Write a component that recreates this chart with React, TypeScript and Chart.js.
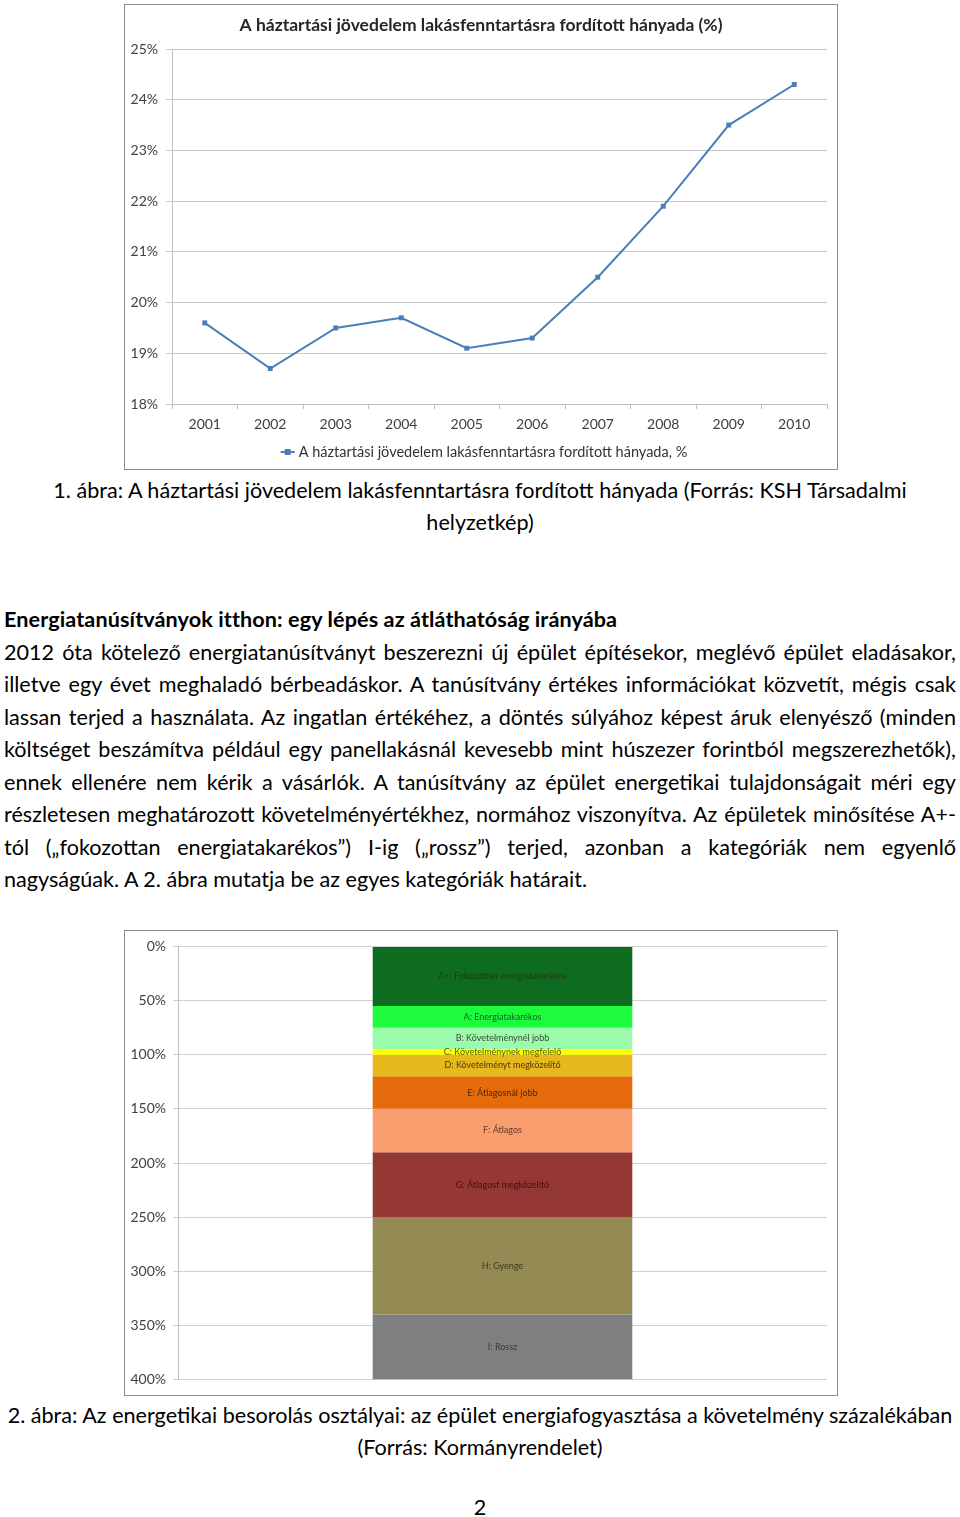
import React, { useEffect, useRef } from "react";
import { Chart, registerables } from "chart.js";

Chart.register(...registerables);

// ---------- Data: chart 1 ----------
const years = ["2001", "2002", "2003", "2004", "2005", "2006", "2007", "2008", "2009", "2010"];
const housingShare = [19.6, 18.7, 19.5, 19.7, 19.1, 19.3, 20.5, 21.9, 23.5, 24.3];
const chart1Title = "A háztartási jövedelem lakásfenntartásra fordított hányada (%)";
const chart1Legend = "A háztartási jövedelem lakásfenntartásra fordított hányada, %";

// ---------- Data: chart 2 ----------
const classLabels = [
  "A+: Fokozottan energiatakarékos",
  "A: Energiatakarékos",
  "B: Követelménynél jobb",
  "C: Követelménynek megfelelő",
  "D: Követelményt megközelítő",
  "E: Átlagosnál jobb",
  "F: Átlagos",
  "G: Átlagost megközelítő",
  "H: Gyenge",
  "I: Rossz",
];
const classSizes = [55, 20, 20, 5, 20, 30, 40, 60, 90, 60];
const classColors = [
  "#0d6c1f", "#1cfc3d", "#9bfdab", "#ffff00", "#e7b91e",
  "#e56b0d", "#fa9d6f", "#953735", "#948a54", "#7f7f7f",
];
const classTextColors = [
  "#1f3a14", "#1f5a25", "#3a4a3a", "#5a5a10", "#4a3a10",
  "#4a2a10", "#5a3a2a", "#3a1414", "#3e3a24", "#3a3a3a",
];

// ---------- Text ----------
const caption1 = [
  "1. ábra: A háztartási jövedelem lakásfenntartásra fordított hányada (Forrás: KSH Társadalmi",
  "helyzetkép)",
];
const heading = "Energiatanúsítványok itthon: egy lépés az átláthatóság irányába";
const paragraphLines = [
  "2012 óta kötelező energiatanúsítványt beszerezni új épület építésekor, meglévő épület eladásakor,",
  "illetve egy évet meghaladó bérbeadáskor. A tanúsítvány értékes információkat közvetít, mégis csak",
  "lassan terjed a használata. Az ingatlan értékéhez, a döntés súlyához képest áruk elenyésző (minden",
  "költséget beszámítva például egy panellakásnál kevesebb mint húszezer forintból megszerezhetők),",
  "ennek ellenére nem kérik a vásárlók. A tanúsítvány az épület energetikai tulajdonságait méri egy",
  "részletesen meghatározott követelményértékhez, normához viszonyítva. Az épületek minősítése A+-",
  "tól („fokozottan energiatakarékos”) I-ig („rossz”) terjed, azonban a kategóriák nem egyenlő",
  "nagyságúak. A 2. ábra mutatja be az egyes kategóriák határait.",
];
const caption2 = [
  "2. ábra: Az energetikai besorolás osztályai: az épület energiafogyasztása a követelmény százalékában",
  "(Forrás: Kormányrendelet)",
];

const FONT = "Lato, 'Noto Sans', sans-serif";
const LINE_BLUE = "#4a7ebb";

function LineChart() {
  const ref = useRef<HTMLCanvasElement | null>(null);
  useEffect(() => {
    if (!ref.current) return;
    const decorations = {
      id: "decor1",
      afterDraw(chart: any) {
        const ctx = chart.ctx;
        ctx.save();
        ctx.fillStyle = "#262626";
        ctx.font = `bold 17.5px ${FONT}`;
        ctx.textAlign = "center";
        ctx.textBaseline = "middle";
        ctx.fillText(chart1Title, chart.width / 2, 20);
        // legend
        ctx.font = `14.5px ${FONT}`;
        const tw = ctx.measureText(chart1Legend).width;
        const total = 18 + tw;
        const x0 = chart.width / 2 - total / 2 + 3;
        const ly = 447;
        ctx.strokeStyle = LINE_BLUE;
        ctx.lineWidth = 2;
        ctx.beginPath();
        ctx.moveTo(x0, ly);
        ctx.lineTo(x0 + 14, ly);
        ctx.stroke();
        ctx.fillStyle = LINE_BLUE;
        ctx.fillRect(x0 + 4, ly - 3, 6, 6);
        ctx.fillStyle = "#333";
        ctx.textAlign = "left";
        ctx.fillText(chart1Legend, x0 + 18, ly);
        ctx.restore();
      },
    };
    const chart = new Chart(ref.current, {
      type: "line",
      data: {
        labels: years,
        datasets: [
          {
            label: chart1Legend,
            data: housingShare,
            borderColor: LINE_BLUE,
            backgroundColor: LINE_BLUE,
            borderWidth: 2,
            pointStyle: "rect",
            pointRadius: 3.5,
            pointBorderWidth: 0,
            tension: 0,
          },
        ],
      },
      options: {
        animation: false,
        responsive: false,
        maintainAspectRatio: false,
        layout: { padding: { left: 0, right: 10, top: 44, bottom: 35 } },
        plugins: { legend: { display: false }, title: { display: false }, tooltip: { enabled: false } },
        scales: {
          x: {
            offset: true,
            grid: { offset: true, drawOnChartArea: false, drawTicks: true, tickLength: 5, color: "#bfbfbf" },
            border: { color: "#bfbfbf" },
            ticks: { color: "#404040", font: { family: FONT, size: 14 }, padding: 7 },
            afterFit: (s: any) => { s.height = 30; },
          },
          y: {
            min: 18,
            max: 25,
            ticks: {
              stepSize: 1,
              color: "#404040",
              font: { family: FONT, size: 14 },
              padding: 8,
              callback: (v: any) => `${v}%`,
            },
            grid: { color: "#c8c8c8", tickLength: 6 },
            border: { color: "#bfbfbf" },
            afterFit: (s: any) => { s.width = 47; },
          },
        },
      },
      plugins: [decorations],
    });
    return () => chart.destroy();
  }, []);
  return <canvas ref={ref} width={712} height={464} style={{ display: "block" }} />;
}

function BarChart() {
  const ref = useRef<HTMLCanvasElement | null>(null);
  useEffect(() => {
    if (!ref.current) return;
    const labelsPlugin = {
      id: "segLabels",
      afterDatasetsDraw(chart: any) {
        const ctx = chart.ctx;
        ctx.save();
        ctx.font = `9px ${FONT}`;
        ctx.textAlign = "center";
        ctx.textBaseline = "middle";
        chart.data.datasets.forEach((ds: any, i: number) => {
          const el = chart.getDatasetMeta(i).data[0];
          if (!el) return;
          const p = el.getProps(["x", "y", "base"], true);
          ctx.fillStyle = classTextColors[i];
          ctx.fillText(ds.label, p.x, (p.y + p.base) / 2);
        });
        ctx.restore();
      },
    };
    const chart = new Chart(ref.current, {
      type: "bar",
      data: {
        labels: [""],
        datasets: classLabels.map((label, i) => ({
          label,
          data: [classSizes[i]],
          backgroundColor: classColors[i],
          borderWidth: 0,
          barPercentage: 1,
          categoryPercentage: 0.4,
        })),
      },
      options: {
        animation: false,
        responsive: false,
        maintainAspectRatio: false,
        layout: { padding: { left: 0, right: 10, top: 14, bottom: 14 } },
        plugins: { legend: { display: false }, title: { display: false }, tooltip: { enabled: false } },
        scales: {
          x: { stacked: true, display: false },
          y: {
            stacked: true,
            reverse: true,
            min: 0,
            max: 400,
            ticks: {
              stepSize: 50,
              color: "#404040",
              font: { family: FONT, size: 14 },
              padding: 7,
              callback: (v: any) => `${v}%`,
            },
            grid: { color: "#d0d0d0", tickLength: 5 },
            border: { color: "#bfbfbf" },
            afterFit: (s: any) => { s.width = 53; },
          },
        },
      },
      plugins: [labelsPlugin],
    });
    return () => chart.destroy();
  }, []);
  return <canvas ref={ref} width={712} height={464} style={{ display: "block" }} />;
}

const textStyle: React.CSSProperties = {
  fontFamily: FONT,
  fontSize: 21.6,
  color: "#000",
  whiteSpace: "nowrap",
};

export default function App() {
  return (
    <div style={{ position: "absolute", left: 0, top: 0, width: 960, height: 1517, background: "#fff" }}>
      <div style={{ position: "absolute", left: 124, top: 4, width: 714, height: 466, border: "1px solid #8c8c8c", boxSizing: "border-box" }}>
        <LineChart />
      </div>
      <div style={{ ...textStyle, position: "absolute", left: 0, top: 474, width: 960, textAlign: "center", lineHeight: "32px" }}>
        {caption1.map((l, i) => <div key={i}>{l}</div>)}
      </div>
      <div style={{ ...textStyle, position: "absolute", left: 4, top: 603, width: 952, lineHeight: "32.5px" }}>
        <div style={{ fontWeight: 700, letterSpacing: "0.1px" }}>{heading}</div>
        {paragraphLines.map((l, i) => (
          <div
            key={i}
            style={{
              textAlign: "justify",
              textAlignLast: i < paragraphLines.length - 1 ? "justify" : "left",
              whiteSpace: "normal",
            }}
          >
            {l}
          </div>
        ))}
      </div>
      <div style={{ position: "absolute", left: 124, top: 930, width: 714, height: 466, border: "1px solid #8c8c8c", boxSizing: "border-box" }}>
        <BarChart />
      </div>
      <div style={{ ...textStyle, position: "absolute", left: 0, top: 1399, width: 960, textAlign: "center", lineHeight: "32px" }}>
        {caption2.map((l, i) => <div key={i}>{l}</div>)}
      </div>
      <div style={{ ...textStyle, position: "absolute", left: 0, top: 1491, width: 960, textAlign: "center", lineHeight: "32px" }}>
        2
      </div>
    </div>
  );
}
